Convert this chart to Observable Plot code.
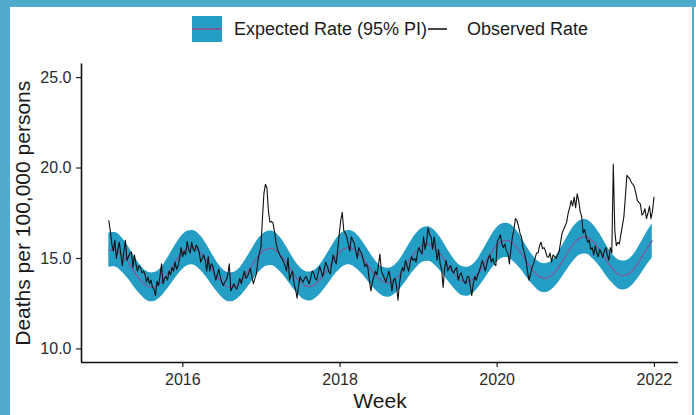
<!DOCTYPE html>
<html>
<head>
<meta charset="utf-8">
<script src="https://cdn.jsdelivr.net/npm/d3@7"></script>
<script src="https://cdn.jsdelivr.net/npm/@observablehq/plot@0.6"></script>
<style>
  html, body { margin: 0; padding: 0; background: #fff; }
  #wrap { position: relative; width: 696px; height: 415px; overflow: hidden; background: #fff;
          font-family: "Liberation Sans", Arial, sans-serif; }
  .strip { position: absolute; background: #50aacb; z-index: 5; }
  #chart { position: absolute; left: 0; top: 50px; }
  .lg { position: absolute; }
  .lgtext { position: absolute; top: 18px; line-height: 22px; font-size: 18px; color: #1a1a1a; white-space: nowrap; }
</style>
</head>
<body>
<div id="wrap">
  <div class="strip" style="left:0;top:0;width:696px;height:7px"></div>
  <div class="strip" style="left:0;top:0;width:10px;height:415px"></div>
  <div class="strip" style="left:692px;top:0;width:2px;height:415px"></div>
  <div id="legend">
    <div class="lg" style="left:192px;top:16px;width:30px;height:26px;background:#259ec6"></div>
    <div class="lg" style="left:192px;top:28px;width:30px;height:1.5px;background:#7e5a9b"></div>
    <div class="lgtext" id="lg1" style="left:234px"></div>
    <div class="lg" style="left:428px;top:28px;width:19px;height:1.5px;background:#444"></div>
    <div class="lgtext" id="lg2" style="left:467px"></div>
  </div>
  <div id="chart"></div>
</div>
<script>
// ---- labels ----
const seriesNames = ["Expected Rate (95% PI)", "Observed Rate"];
const xTitle = "Week";
const yTitle = "Deaths per 100,000 persons";
const xTickYears = [2016, 2018, 2020, 2022];
const yTicks = [10, 15, 20, 25];

// ---- expected rate (monthly, 22nd of each month, Jan 2015 - Dec 2021) ----
const expectedStartYear = 2015;
const expected = [
  15.45,15.48,15.23,14.78,14.23,13.75,13.45,13.42,13.68,14.16,14.73,15.23,
  15.55,15.58,15.32,14.84,14.27,13.77,13.45,13.42,13.68,14.15,14.71,15.21,
  15.52,15.55,15.30,14.84,14.29,13.80,13.50,13.47,13.73,14.19,14.75,15.24,
  15.55,15.58,15.35,14.93,14.42,13.97,13.70,13.67,13.93,14.39,14.95,15.44,
  15.75,15.78,15.53,15.08,14.53,14.05,13.75,13.73,13.99,14.49,15.09,15.62,
  15.95,15.98,15.73,15.28,14.73,14.25,13.95,13.93,14.19,14.69,15.29,15.82,
  16.15,16.18,15.92,15.46,14.90,14.41,14.10,14.08,14.34,14.84,15.44,15.97
];
const expectedLower = [
  14.50,14.53,14.28,13.88,13.38,12.95,12.65,12.62,12.88,13.31,13.83,14.28,
  14.60,14.63,14.37,13.94,13.42,12.97,12.65,12.62,12.88,13.30,13.81,14.26,
  14.57,14.60,14.35,13.94,13.44,13.00,12.70,12.67,12.93,13.34,13.85,14.29,
  14.60,14.63,14.40,14.03,13.57,13.17,12.90,12.87,13.13,13.54,14.05,14.49,
  14.80,14.83,14.58,14.18,13.68,13.25,12.95,12.93,13.19,13.64,14.19,14.67,
  15.00,15.03,14.78,14.38,13.88,13.45,13.15,13.13,13.39,13.84,14.39,14.87,
  15.20,15.23,14.97,14.56,14.05,13.61,13.30,13.28,13.54,13.99,14.54,15.02
];
const expectedUpper = [
  16.40,16.43,16.18,15.68,15.08,14.55,14.25,14.22,14.48,15.01,15.63,16.18,
  16.50,16.53,16.27,15.74,15.12,14.57,14.25,14.22,14.48,15.00,15.61,16.16,
  16.47,16.50,16.25,15.74,15.14,14.60,14.30,14.27,14.53,15.04,15.65,16.19,
  16.50,16.53,16.30,15.83,15.27,14.77,14.50,14.47,14.73,15.24,15.85,16.39,
  16.70,16.73,16.48,15.98,15.38,14.85,14.55,14.53,14.79,15.34,15.99,16.57,
  16.90,16.93,16.68,16.18,15.58,15.05,14.75,14.73,14.99,15.54,16.19,16.77,
  17.10,17.13,16.87,16.36,15.75,15.21,14.90,14.88,15.14,15.69,16.34,16.92
];

// ---- observed rate (weekly from 2015-01-22) ----
const observedStart = "2015-01-22";
const observed = [
  // 2015
  17.1,16.5,15.8,15.4,16.0,15.0,15.5,15.9,15.2,14.6,15.4,16.0,14.9,15.1,15.3,15.35,14.5,15.2,14.7,14.3,
  14.6,14.5,14.2,14.3,14.15,13.7,13.97,13.6,13.8,13.4,13.3,12.95,13.75,13.5,14.0,14.7,13.6,13.9,14.0,13.8,
  14.3,14.1,14.5,14.3,14.8,14.4,14.6,15.0,15.6,15.1,
  // 2016
  15.4,15.2,15.95,15.5,15.3,15.9,15.5,15.4,15.75,15.6,15.35,14.8,15.0,15.2,14.9,14.3,15.1,14.3,14.7,14.6,
  14.2,13.8,14.1,14.4,14.0,13.7,13.5,13.7,13.8,14.1,14.7,13.2,13.4,13.6,13.4,13.3,13.6,13.9,13.6,14.0,
  14.3,13.9,14.0,14.2,14.45,14.0,13.6,13.9,14.15,14.9,15.3,15.6,
  // 2017
  17.2,18.6,19.1,18.9,17.6,17.0,17.05,16.95,16.5,15.9,15.5,15.3,15.1,15.0,14.8,14.6,14.3,15.05,13.8,14.1,
  14.3,13.6,13.3,12.8,13.5,14.0,13.8,13.7,13.9,14.0,13.8,13.6,13.9,14.3,14.2,13.9,13.8,14.2,14.55,14.3,
  14.0,14.4,14.8,14.6,14.3,14.15,14.7,15.2,14.9,14.7,15.5,16.35,
  // 2018
  17.1,17.55,16.55,16.4,16.2,15.8,15.4,16.2,16.0,15.85,15.4,15.0,15.6,15.4,15.25,14.9,14.55,14.7,14.5,13.8,
  13.2,13.7,14.0,14.3,14.1,14.6,15.25,14.3,14.1,13.9,13.7,14.0,14.3,13.9,13.2,13.8,13.9,13.5,12.7,13.6,
  14.2,14.5,14.3,14.9,14.6,14.3,14.7,15.1,14.9,15.0,14.8,15.3,
  // 2019
  15.6,15.4,15.25,16.2,15.5,15.9,16.7,16.3,16.2,15.5,16.2,15.6,14.9,15.5,14.7,14.4,13.4,14.5,14.9,14.3,
  14.5,14.6,14.3,14.2,14.4,14.5,13.8,14.1,14.2,13.9,13.7,13.6,14.0,14.0,13.5,12.95,13.6,14.0,13.8,14.1,
  14.3,14.6,14.9,14.6,14.3,14.7,15.0,15.2,14.8,15.0,14.7,14.6,
  // 2020
  15.95,16.1,16.3,15.8,15.6,15.8,15.4,15.3,14.7,15.5,16.2,16.6,17.2,17.1,16.8,16.4,16.2,15.6,15.3,14.9,
  14.3,13.8,14.1,14.5,14.7,15.0,15.3,15.3,15.7,15.9,15.55,15.6,15.4,15.1,15.07,15.3,14.8,15.2,15.1,15.0,
  15.2,15.4,15.9,16.4,16.6,16.8,17.0,17.5,17.8,18.2,17.9,18.4,17.8,
  // 2021
  18.57,18.2,17.6,17.3,16.4,16.6,16.2,15.9,16.0,15.5,15.6,15.2,15.7,15.3,15.1,15.5,15.3,15.05,15.4,15.6,
  15.2,14.9,15.6,15.3,20.2,16.5,15.7,15.9,15.8,16.3,16.8,17.3,18.4,19.6,19.5,19.4,19.2,19.1,18.95,18.6,
  18.2,18.1,18.0,17.4,17.5,17.75,17.2,17.5,17.9,17.2,17.6,18.4
];

// ---- build tables ----
const expTable = expected.map((v, k) => ({
  date: new Date(Date.UTC(expectedStartYear + Math.floor(k / 12), k % 12, 22)),
  mid: v, lo: expectedLower[k], hi: expectedUpper[k]
}));
const obsStart = new Date(observedStart + "T00:00:00Z");
const obsTable = observed.map((v, i) => ({ date: d3.utcDay.offset(obsStart, 7 * i), value: v }));

document.getElementById("lg1").textContent = seriesNames[0];
document.getElementById("lg2").textContent = seriesNames[1];

const xDomain = [new Date(Date.UTC(2014, 8, 17)), new Date(Date.UTC(2022, 3, 23))];
const yDomain = [9.25, 25.75];

const chart = Plot.plot({
  width: 696,
  height: 365,
  marginTop: 13.5,
  marginBottom: 53,
  marginLeft: 81,
  marginRight: 18,
  style: { background: "transparent", fontFamily: "'Liberation Sans', Arial, sans-serif", fontSize: "16px", color: "#2b2b2b", overflow: "visible" },
  x: { type: "utc", domain: xDomain },
  y: { domain: yDomain },
  marks: [
    Plot.areaY(expTable, { x: "date", y1: "lo", y2: "hi", fill: "#259ec6", curve: "catmull-rom" }),
    Plot.line(expTable, { x: "date", y: "mid", stroke: "#7e5a9b", strokeWidth: 1.3, curve: "catmull-rom" }),
    Plot.line(obsTable, { x: "date", y: "value", stroke: "#111", strokeWidth: 1.1 }),
    Plot.axisX(xTickYears.map(y => new Date(Date.UTC(y, 0, 1))), {
      tickFormat: d3.utcFormat("%Y"), tickSize: 5, tickPadding: 6, label: null, stroke: "#222", strokeWidth: 1.2, fontSize: 16
    }),
    Plot.axisY(yTicks, {
      tickFormat: d3.format(".1f"), tickSize: 5, tickPadding: 5, label: null, stroke: "#222", strokeWidth: 1.2, fontSize: 16
    }),
    Plot.ruleY([yDomain[0]], { stroke: "#111", strokeWidth: 1.6 }),
    Plot.ruleX([xDomain[0]], { stroke: "#111", strokeWidth: 1.6 }),
    Plot.text([xTitle], { frameAnchor: "bottom", dy: 45, fontSize: 21, fill: "#1a1a1a" }),
    Plot.text([yTitle], { frameAnchor: "left", textAnchor: "middle", lineAnchor: "middle", dx: -58, rotate: -90, fontSize: 21, fill: "#1a1a1a" })
  ]
});
document.getElementById("chart").appendChild(chart);
</script>
</body>
</html>
